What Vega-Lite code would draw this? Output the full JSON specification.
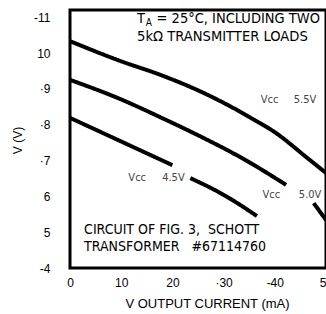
{
  "$schema": "https://vega.github.io/schema/vega-lite/v6.json",
  "autosize": {"type": "none"},
  "padding": {"left": 70, "top": 10, "right": 0, "bottom": 46},
  "width": 256,
  "height": 258,
  "background": "white",
  "config": {
    "view": {"stroke": "black", "strokeWidth": 3},
    "font": "Liberation Sans"
  },
  "datasets": {
    "curves": [
      {"series": "5.5V", "seg": "a", "current": 0, "volts": 10.33},
      {"series": "5.5V", "seg": "a", "current": 9.4, "volts": 9.8},
      {"series": "5.5V", "seg": "a", "current": 18.2, "volts": 9.36},
      {"series": "5.5V", "seg": "a", "current": 24.5, "volts": 8.99},
      {"series": "5.5V", "seg": "a", "current": 30.4, "volts": 8.58},
      {"series": "5.5V", "seg": "a", "current": 35.3, "volts": 8.19},
      {"series": "5.5V", "seg": "a", "current": 40.2, "volts": 7.77},
      {"series": "5.5V", "seg": "a", "current": 46.1, "volts": 7.1},
      {"series": "5.5V", "seg": "a", "current": 50, "volts": 6.65},
      {"series": "5.0V", "seg": "a", "current": 0, "volts": 9.25},
      {"series": "5.0V", "seg": "a", "current": 9.4, "volts": 8.74},
      {"series": "5.0V", "seg": "a", "current": 18.2, "volts": 8.17},
      {"series": "5.0V", "seg": "a", "current": 24.5, "volts": 7.74},
      {"series": "5.0V", "seg": "a", "current": 34.3, "volts": 7.01},
      {"series": "5.0V", "seg": "a", "current": 42.2, "volts": 6.32},
      {"series": "5.0V", "seg": "b", "current": 47.6, "volts": 5.81},
      {"series": "5.0V", "seg": "b", "current": 50, "volts": 5.34},
      {"series": "4.5V", "seg": "a", "current": 0, "volts": 8.19},
      {"series": "4.5V", "seg": "a", "current": 9.4, "volts": 7.57},
      {"series": "4.5V", "seg": "a", "current": 20, "volts": 6.87},
      {"series": "4.5V", "seg": "b", "current": 23.5, "volts": 6.51},
      {"series": "4.5V", "seg": "b", "current": 30.4, "volts": 6.01},
      {"series": "4.5V", "seg": "b", "current": 36.5, "volts": 5.45}
    ],
    "topText1": [
      {"current": 13.1, "volts": 10.95, "label": "T"},
      {"current": 16.9, "volts": 10.95, "label": "= 25°C, INCLUDING TWO"}
    ],
    "topText2": [
      {"current": 13.1, "volts": 10.45, "label": "5kΩ TRANSMITTER LOADS"}
    ],
    "bottomText": [
      {"current": 2.75, "volts": 5.06, "label": "CIRCUIT OF FIG. 3,\u00a0\u00a0SCHOTT"},
      {"current": 2.75, "volts": 4.59, "label": "TRANSFORMER\u00a0\u00a0\u00a0#67114760"}
    ],
    "subText": [
      {"current": 14.8, "volts": 10.84, "label": "A"}
    ],
    "vccText": [
      {"current": 37.25, "volts": 8.69, "label": "Vᴄᴄ"},
      {"current": 43.7, "volts": 8.69, "label": "5.5V"},
      {"current": 11.4, "volts": 6.51, "label": "Vᴄᴄ"},
      {"current": 18.0, "volts": 6.51, "label": "4.5V"},
      {"current": 37.6, "volts": 6.04, "label": "Vᴄᴄ"},
      {"current": 44.7, "volts": 6.04, "label": "5.0V"}
    ]
  },
  "encoding": {
    "x": {
      "field": "current", "type": "quantitative",
      "scale": {"domain": [0, 50], "nice": false},
      "axis": {
        "values": [0, 10, 20, 30, 40, 50],
        "labelExpr": "datum.value == 30 ? '·30' : datum.value == 40 ? '-40' : datum.label",
        "ticks": false, "domain": false, "grid": false,
        "labelFontSize": 12, "labelPadding": 9, "labelColor": "black",
        "labelFlush": false, "labelOverlap": false,
        "title": "V  OUTPUT CURRENT (mA)",
        "titleFontSize": 13, "titleFontWeight": "normal", "titleColor": "black",
        "titleX": 137, "titleY": 35, "titleBaseline": "middle", "titleAlign": "center"
      }
    },
    "y": {
      "field": "volts", "type": "quantitative",
      "scale": {"domain": [4, 11.2], "nice": false, "zero": false},
      "axis": {
        "values": [4, 5, 6, 7, 8, 9, 10, 11],
        "labelExpr": "datum.value == 11 ? '-11' : datum.value == 4 ? '-4' : (datum.value >= 7 && datum.value <= 9) ? '·' + datum.label : datum.label",
        "ticks": false, "domain": false, "grid": false,
        "labelFontSize": 12, "labelPadding": 20, "labelColor": "black",
        "labelFlush": false, "labelOverlap": false,
        "title": "V  (V)",
        "titleFontSize": 12, "titleFontWeight": "normal", "titleColor": "black",
        "titleX": -53, "titleY": 130, "titleAngle": -90,
        "titleBaseline": "middle", "titleAlign": "center"
      }
    }
  },
  "layer": [
    {
      "data": {"name": "curves"},
      "mark": {"type": "line", "color": "black", "strokeWidth": 4, "interpolate": "monotone", "clip": true},
      "encoding": {
        "detail": {"field": "series"},
        "strokeDash": {"field": "seg", "legend": null, "scale": {"range": [[1, 0], [1, 0]]}}
      }
    },
    {
      "data": {"name": "topText1"},
      "mark": {"type": "text", "align": "left", "baseline": "middle", "font": "DejaVu Sans Condensed, Liberation Sans", "fontSize": 14.5, "color": "black"},
      "encoding": {"text": {"field": "label"}}
    },
    {
      "data": {"name": "topText2"},
      "mark": {"type": "text", "align": "left", "baseline": "middle", "font": "DejaVu Sans Condensed, Liberation Sans", "fontSize": 14.6, "color": "black"},
      "encoding": {"text": {"field": "label"}}
    },
    {
      "data": {"name": "bottomText"},
      "mark": {"type": "text", "align": "left", "baseline": "middle", "font": "DejaVu Sans Condensed, Liberation Sans", "fontSize": 14, "color": "black"},
      "encoding": {"text": {"field": "label"}}
    },
    {
      "data": {"name": "subText"},
      "mark": {"type": "text", "align": "left", "baseline": "middle", "font": "DejaVu Sans Condensed, Liberation Sans", "fontSize": 10, "color": "black"},
      "encoding": {"text": {"field": "label"}}
    },
    {
      "data": {"name": "vccText"},
      "mark": {"type": "text", "align": "left", "baseline": "middle", "font": "DejaVu Sans Condensed, Liberation Sans", "fontSize": 11, "color": "#444444"},
      "encoding": {"text": {"field": "label"}}
    }
  ]
}
